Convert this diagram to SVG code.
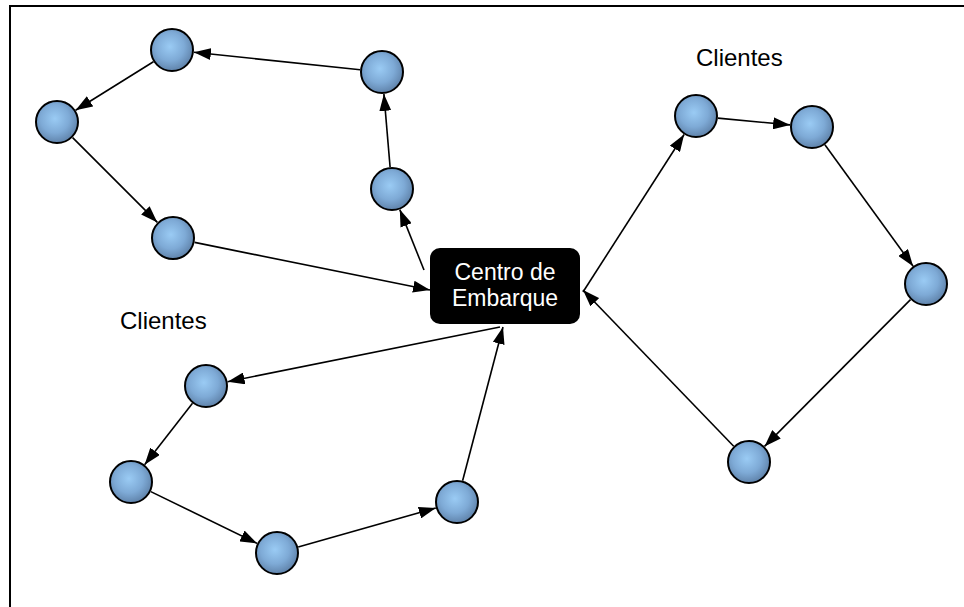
<svg xmlns="http://www.w3.org/2000/svg" width="964" height="607" viewBox="0 0 964 607">
<defs>
<radialGradient id="ball" cx="0.45" cy="0.42" r="0.62">
<stop offset="0" stop-color="#9acbf4"/>
<stop offset="0.55" stop-color="#7eaad6"/>
<stop offset="1" stop-color="#5b7da4"/>
</radialGradient>
<marker id="arr" viewBox="0 0 17 12" refX="17" refY="6" markerWidth="17" markerHeight="12" markerUnits="userSpaceOnUse" orient="auto">
<path d="M0,0 L17,6 L0,12 Z" fill="#000"/>
</marker>
<style>
.n{fill:url(#ball);stroke:#000;stroke-width:2}
.e{stroke:#000;stroke-width:1.6;fill:none;marker-end:url(#arr)}
.t{font-family:"Liberation Sans",Arial,sans-serif;font-size:24px;fill:#000}
.bt{font-family:"Liberation Sans",Arial,sans-serif;font-size:23px;fill:#fff;text-anchor:middle}
</style>
</defs>
<rect x="0" y="0" width="964" height="607" fill="#fff"/>
<rect x="10" y="6" width="970" height="620" fill="none" stroke="#000" stroke-width="2"/>
<g id="connectors">
<line class="e" x1="360.1" y1="69.7" x2="193.9" y2="52.3"/>
<line class="e" x1="153.4" y1="61.7" x2="75.6" y2="110.3"/>
<line class="e" x1="72.6" y1="137.6" x2="157.4" y2="222.4"/>
<line class="e" x1="194.6" y1="242.4" x2="430" y2="290"/>
<line class="e" x1="424" y1="270" x2="399.8" y2="209.6"/>
<line class="e" x1="390.1" y1="167.1" x2="383.9" y2="93.9"/>
<line class="e" x1="583" y1="292" x2="684.1" y2="134.5"/>
<line class="e" x1="717.9" y1="118.1" x2="790.1" y2="124.9"/>
<line class="e" x1="824.9" y1="144.8" x2="913.1" y2="266.2"/>
<line class="e" x1="910.5" y1="299.6" x2="764.5" y2="446.4"/>
<line class="e" x1="733.7" y1="446.2" x2="583" y2="290"/>
<line class="e" x1="500" y1="327" x2="227.6" y2="381.7"/>
<line class="e" x1="192.5" y1="403.3" x2="144.6" y2="464.7"/>
<line class="e" x1="150.8" y1="491.6" x2="257.2" y2="543.4"/>
<line class="e" x1="298.2" y1="547" x2="435.8" y2="508"/>
<line class="e" x1="462.6" y1="480.7" x2="503" y2="327"/>
</g>
<g id="centro">
<rect x="430" y="248" width="150" height="76" rx="10" ry="10" fill="#000"/>
<text class="bt" x="505" y="280">Centro de</text>
<text class="bt" x="505" y="306">Embarque</text>
</g>
<g id="n1"><circle class="n" cx="172" cy="50" r="21"/></g>
<g id="n2"><circle class="n" cx="382" cy="72" r="21"/></g>
<g id="n3"><circle class="n" cx="392" cy="189" r="21"/></g>
<g id="n4"><circle class="n" cx="57" cy="122" r="21"/></g>
<g id="n5"><circle class="n" cx="173" cy="238" r="21"/></g>
<g id="n6"><circle class="n" cx="696" cy="116" r="21"/></g>
<g id="n7"><circle class="n" cx="812" cy="127" r="21"/></g>
<g id="n8"><circle class="n" cx="926" cy="284" r="21"/></g>
<g id="n9"><circle class="n" cx="749" cy="462" r="21"/></g>
<g id="n10"><circle class="n" cx="206" cy="386" r="21"/></g>
<g id="n11"><circle class="n" cx="131" cy="482" r="21"/></g>
<g id="n12"><circle class="n" cx="277" cy="553" r="21"/></g>
<g id="n13"><circle class="n" cx="457" cy="502" r="21"/></g>
<g id="label-right"><text class="t" x="696" y="66">Clientes</text></g>
<g id="label-left"><text class="t" x="120" y="329">Clientes</text></g>
</svg>
